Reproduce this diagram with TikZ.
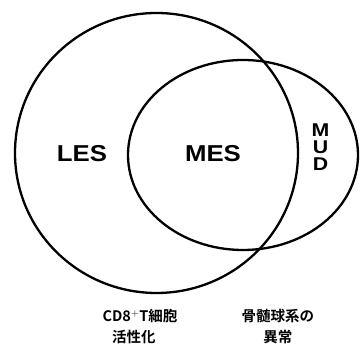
\documentclass[tikz,border=0pt]{standalone}
\usepackage{fontspec}
\setmainfont{Liberation Sans}
\newfontfamily\jpfont{Noto Sans CJK JP Bold}
\begin{document}
\begin{tikzpicture}[x=1pt,y=-1pt,
  ring/.style={draw=black,line width=2.3pt},
  biglabel/.style={font=\fontsize{23}{23}\selectfont\bfseries,inner sep=0pt,xscale=1.12,transform shape},
  mudletter/.style={font=\fontsize{18.5}{18.5}\selectfont\bfseries,inner sep=0pt,xscale=1.15,transform shape},
  jplabel/.style={font=\jpfont\fontsize{14.5}{22}\selectfont,inner sep=0pt,align=center}]
\useasboundingbox (0,0) rectangle (360,344);
\draw[ring] (156.5,153) ellipse [x radius=141.5,y radius=140];
\draw[ring] (243,155) ellipse [x radius=115,y radius=95];
\node[biglabel] (les) at (82,154) {LES};
\node[biglabel] (mes) at (213,154) {MES};
\node[mudletter] (m) at (320.5,130) {M};
\node[mudletter] (u) at (320.5,147) {U};
\node[mudletter] (d) at (320.5,164) {D};
\node[jplabel] (cd8) at (140,316) {CD8$^{+}$T細胞};
\node[jplabel] (cd8b) at (134,337) {活性化};
\node[jplabel] (mye) at (278,316) {骨髄球系の};
\node[jplabel] (myeb) at (278,337) {異常};
\end{tikzpicture}
\end{document}
